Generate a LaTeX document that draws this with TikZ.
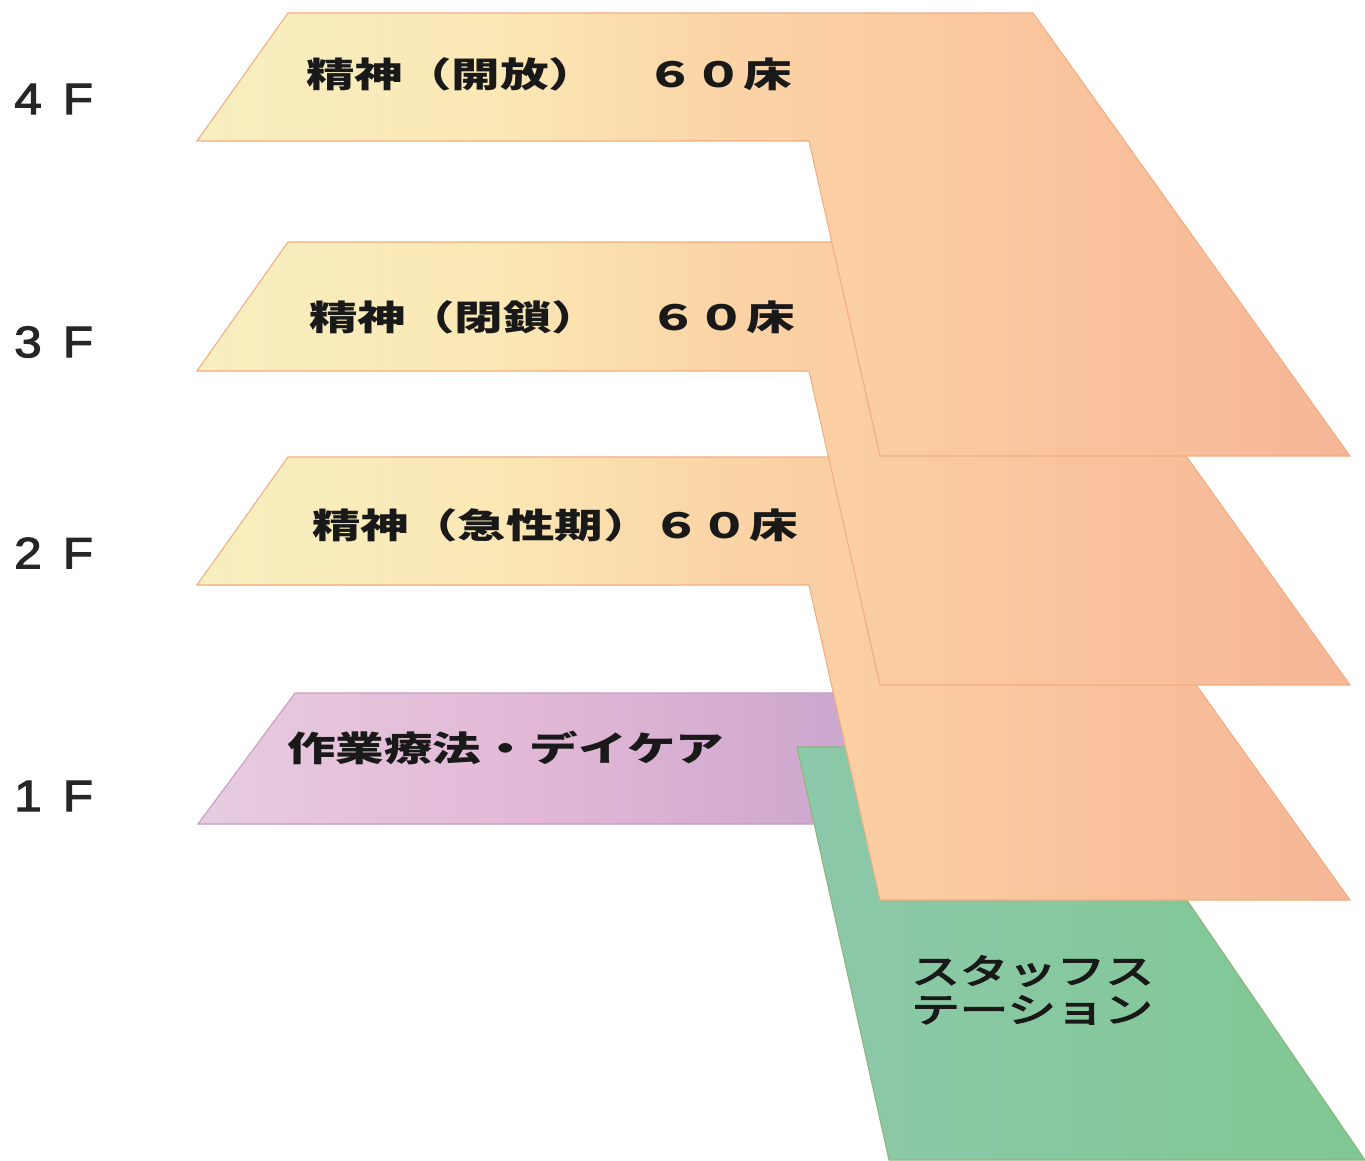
\documentclass[tikz,border=0pt]{standalone}
\usepackage{fontspec}
\setmainfont{Liberation Sans}
\newfontfamily\jpfont{Noto Sans CJK JP}
\newfontfamily\jpmid[FakeBold=3.5]{Noto Sans CJK JP}
\newfontfamily\flfont[WordSpace=1.55,FakeBold=2.5]{Liberation Sans}
\definecolor{orangeedge}{HTML}{F0AE80}
\definecolor{purpleedge}{HTML}{C79CC4}
\definecolor{greenedge}{HTML}{8DB77A}
\definecolor{wa}{HTML}{F7EFC0}
\definecolor{wb}{HTML}{FBE8B5}
\definecolor{wc}{HTML}{FBD4A6}
\definecolor{wd}{HTML}{FBC9A0}
\definecolor{we}{HTML}{F5B696}
\definecolor{ca}{HTML}{E7CCE0}
\definecolor{cb}{HTML}{E2B8D6}
\definecolor{cc}{HTML}{CBA5CD}
\definecolor{sa}{HTML}{8CC8AA}
\definecolor{sb}{HTML}{7FC892}
\pgfdeclarehorizontalshading{floorgrad}{100bp}{
  color(0bp)=(wa); color(25bp)=(wa); color(38bp)=(wb); color(48bp)=(wc);
  color(58bp)=(wd); color(75bp)=(we); color(100bp)=(we)}
\pgfdeclarehorizontalshading{caregrad}{100bp}{
  color(0bp)=(ca); color(25bp)=(ca); color(50bp)=(cb); color(75bp)=(cc); color(100bp)=(cc)}
\pgfdeclarehorizontalshading{staffgrad}{100bp}{
  color(0bp)=(sa); color(25bp)=(sa); color(75bp)=(sb); color(100bp)=(sb)}
\newcommand{\jptext}[1]{\scalebox{1.4}[1]{\jpfont\bfseries\fontsize{26}{26}\selectfont #1}}
\newcommand{\jpstaff}[1]{\scalebox{1.4}[1]{\jpmid\fontsize{26}{26}\selectfont #1}}
\tikzset{
  wardshape/.style={shading=floorgrad, draw=orangeedge, line width=0.8pt},
  careshape/.style={shading=caregrad, draw=purpleedge, line width=0.8pt},
  staffshape/.style={shading=staffgrad, draw=greenedge, line width=0.8pt},
  roomlabel/.style={anchor=west, inner sep=0pt, text=black!90},
  floorlabel/.style={anchor=west, inner sep=0pt, text=black!85, font=\flfont\fontsize{33}{33}\selectfont},
}
\begin{document}
\begin{tikzpicture}[x=0.75pt,y=-0.75pt]
\useasboundingbox (0,0) rectangle (1365,1161);
\fill[white] (0,0) rectangle (1365,1161);
% 1F
\path[careshape] (295,693) -- (872,693) -- (872,824) -- (198,824) -- cycle;
\path[staffshape] (797,747) -- (1082,747) -- (1365,1160) -- (889,1160) -- cycle;
% 2F, 3F, 4F
\path[wardshape] (288,457) -- (1033,457) -- (1350,900) -- (880,900) -- (809,585) -- (197,585) -- cycle;
\path[wardshape] (288,242) -- (1033,242) -- (1350,685) -- (880,685) -- (809,371) -- (197,371) -- cycle;
\path[wardshape] (288,13) -- (1033,13) -- (1350,456) -- (880,456) -- (809,141) -- (197,141) -- cycle;
% texts
\node[roomlabel] (w4) at (306,74) {\jptext{精神（開放）　６０床}};
\node[roomlabel] (w3) at (309,317) {\jptext{精神（閉鎖）　６０床}};
\node[roomlabel] (w2) at (312,525) {\jptext{精神（急性期）６０床}};
\node[roomlabel] (w1) at (287,748) {\jptext{作業療法・デイケア}};
\node[roomlabel] (s1) at (911,971) {\jpstaff{スタッフス}};
\node[roomlabel] (s2) at (911,1010) {\jpstaff{テーション}};
\node[floorlabel] (f4) at (14,99) {\scalebox{1.12}[1]{4 F}};
\node[floorlabel] (f3) at (14,342) {\scalebox{1.12}[1]{3 F}};
\node[floorlabel] (f2) at (14,553) {\scalebox{1.12}[1]{2 F}};
\node[floorlabel] (f1) at (14,796) {\scalebox{1.12}[1]{1 F}};
\end{tikzpicture}
\end{document}
